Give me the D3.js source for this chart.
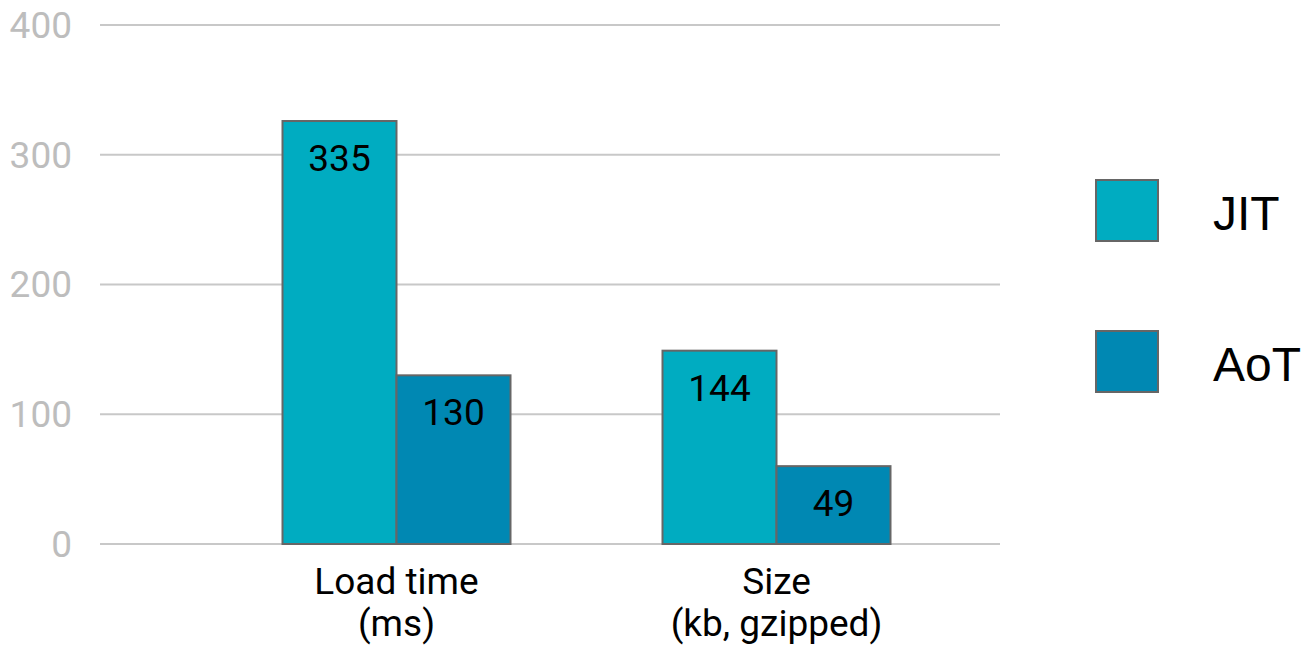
<!DOCTYPE html>
<html>
<head>
<meta charset="utf-8">
<script src="https://cdn.jsdelivr.net/npm/d3@7"></script>
<style>
  body { margin: 0; background: #fff; }
  text { font-family: Roboto, "Noto Sans", sans-serif; }
</style>
</head>
<body>
<svg id="chart" width="1303" height="647"></svg>
<script>
// data
const categories = ["Load time|(ms)", "Size|(kb, gzipped)"];
const seriesNames = ["JIT", "AoT"];
const jitValues = [326, 149];   // bar heights as drawn
const aotValues = [130, 60];
const jitLabels = ["335", "144"]; // printed labels
const aotLabels = ["130", "49"];
const yTicks = [0, 100, 200, 300, 400];

const colors = {JIT: "#00acc1", AoT: "#0088b3"};
const strokeColor = "#666";
const gridColor = "#c8c8c8";
const fontSize = 37;

const svg = d3.select("#chart");

const y = d3.scaleLinear().domain([0, 400]).range([544, 25]);
const x = d3.scaleBand()
  .domain(categories)
  .range([130.5, 1042.5])
  .paddingInner(0.4)
  .paddingOuter(0.4);
const xs = d3.scaleBand()
  .domain(seriesNames)
  .range([0, x.bandwidth()]);

// grid lines
svg.append("g")
  .selectAll("line")
  .data(yTicks)
  .enter().append("line")
    .attr("x1", 100)
    .attr("x2", 1000)
    .attr("y1", d => y(d))
    .attr("y2", d => y(d))
    .style("stroke", gridColor)
    .style("stroke-width", 2);

// y tick labels
svg.append("g")
  .selectAll("text")
  .data(yTicks)
  .enter().append("text")
    .attr("x", 72)
    .attr("y", d => y(d))
    .attr("dy", "0.35em")
    .attr("text-anchor", "end")
    .style("font-size", fontSize + "px")
    .style("fill", "#bdbdbd")
    .text(d => d);

// bars
const barData = [];
categories.forEach((c, i) => {
  barData.push({cat: c, series: "JIT", value: jitValues[i], label: jitLabels[i]});
  barData.push({cat: c, series: "AoT", value: aotValues[i], label: aotLabels[i]});
});

const bars = svg.append("g");
bars.selectAll("rect")
  .data(barData)
  .enter().append("rect")
    .attr("x", d => x(d.cat) + xs(d.series))
    .attr("y", d => y(d.value))
    .attr("width", xs.bandwidth())
    .attr("height", d => y(0) - y(d.value))
    .style("fill", d => colors[d.series])
    .style("stroke", strokeColor)
    .style("stroke-width", 2);

bars.selectAll("text")
  .data(barData)
  .enter().append("text")
    .attr("x", d => x(d.cat) + xs(d.series) + xs.bandwidth() / 2)
    .attr("y", d => y(d.value) + 50)
    .attr("text-anchor", "middle")
    .style("font-size", fontSize + "px")
    .style("fill", "#000")
    .text(d => d.label);

// category labels
const catLabels = svg.append("g")
  .selectAll("text")
  .data(categories)
  .enter().append("text")
    .attr("x", d => x(d) + x.bandwidth() / 2)
    .attr("y", 594)
    .attr("text-anchor", "middle")
    .style("font-size", fontSize + "px")
    .style("fill", "#000");

catLabels.selectAll("tspan")
  .data(d => d.split("|"))
  .enter().append("tspan")
    .attr("x", function () { return d3.select(this.parentNode).attr("x"); })
    .attr("dy", (d, i) => i === 0 ? 0 : 42)
    .text(d => d);

// legend
const legend = svg.append("g")
  .selectAll("g")
  .data(seriesNames)
  .enter().append("g")
    .attr("transform", (d, i) => `translate(1096,${180 + i * 151})`);

legend.append("rect")
  .attr("width", 62)
  .attr("height", 61)
  .style("fill", d => colors[d])
  .style("stroke", strokeColor)
  .style("stroke-width", 2);

legend.append("text")
  .attr("x", 117)
  .attr("y", 50)
  .style("font-family", "'Liberation Sans', Arial, sans-serif")
  .style("font-size", "48px")
  .style("fill", "#000")
  .text(d => d);
</script>
</body>
</html>
